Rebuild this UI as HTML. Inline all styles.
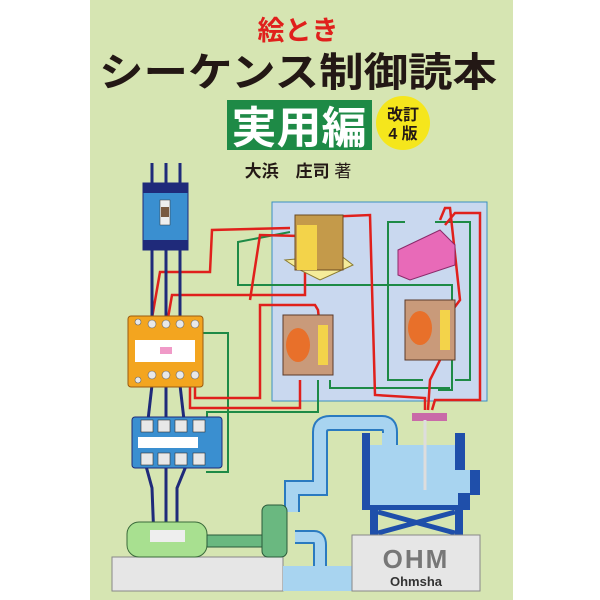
<!DOCTYPE html>
<html><head><meta charset="utf-8"><style>
html,body{margin:0;padding:0;background:#fff;}
svg{display:block}
text{font-family:"Liberation Sans","Noto Sans CJK JP",sans-serif;font-weight:bold}
</style></head><body>
<svg width="600" height="600" viewBox="0 0 600 600" xmlns="http://www.w3.org/2000/svg">
<rect x="90" y="0" width="423" height="600" fill="#d6e5b2"/>
<!-- titles -->
<text x="298" y="40" font-size="27" fill="#e0201c" text-anchor="middle">絵とき</text>
<text x="298" y="86" font-size="40" fill="#231815" text-anchor="middle" textLength="398" lengthAdjust="spacingAndGlyphs">シーケンス制御読本</text>
<rect x="227" y="100" width="145" height="50" fill="#1e8a46"/>
<text x="299" y="143" font-size="44" fill="#fff" text-anchor="middle" textLength="135" lengthAdjust="spacingAndGlyphs">実用編</text>
<circle cx="403" cy="123" r="27" fill="#f5e61c"/>
<text x="403" y="120" font-size="16" fill="#231815" text-anchor="middle">改訂</text>
<text x="403" y="139" font-size="16" fill="#231815" text-anchor="middle">4 版</text>
<text x="298" y="177" font-size="17" fill="#231815" text-anchor="middle">大浜　庄司 <tspan font-weight="normal">著</tspan></text>
<!-- blue panel -->
<rect x="272" y="202" width="215" height="199" fill="#c9d8ef" stroke="#3a8fc0" stroke-width="1"/>
<!-- wires green -->
<g fill="none" stroke="#1e8a46" stroke-width="2">
<polyline points="290,232 238,242 238,285 452,285 452,390 438,390"/>
<polyline points="405,222 388,222 388,380 423,380"/>
<polyline points="435,222 470,222 470,380 455,380"/>
<polyline points="197,333 228,333 228,472 206,472"/>
<polyline points="207,418 207,412 318,412 318,380"/>
<polyline points="330,380 330,388 450,388"/>
</g>
<!-- wires red -->
<g fill="none" stroke="#e0201c" stroke-width="2.5">
<polyline points="152,318 160,272 210,272 212,230 290,228"/>
<polyline points="168,318 172,295 305,295 305,240"/>
<polyline points="195,378 195,398 260,398 260,305 315,305 318,310 320,330"/>
<polyline points="190,382 190,408 300,408 300,380"/>
<polyline points="300,218 370,215 375,395 425,398 425,410"/>
<polyline points="250,300 260,235 300,236"/>
<polyline points="445,225 455,213 480,213 480,400 435,400 432,410"/>
<polyline points="440,220 445,208 450,208 460,300 445,320 440,360 430,380 428,410"/>
</g>
<!-- navy wires -->
<g stroke="#1f2a7a" stroke-width="3" fill="none">
<line x1="152" y1="163" x2="152" y2="183"/><line x1="166" y1="163" x2="166" y2="183"/><line x1="180" y1="163" x2="180" y2="183"/>
<line x1="152" y1="248" x2="152" y2="318"/><line x1="166" y1="248" x2="166" y2="318"/><line x1="180" y1="248" x2="180" y2="318"/>
<line x1="152" y1="385" x2="148" y2="420"/><line x1="166" y1="385" x2="166" y2="420"/><line x1="180" y1="385" x2="184" y2="420"/>
<polyline points="146,466 152,488 154,540"/><polyline points="166,466 166,540"/><polyline points="186,466 177,488 177,540"/>
</g>
<!-- breaker -->
<rect x="143" y="183" width="45" height="67" fill="#3a8fd0" stroke="#1f2a7a"/>
<rect x="143" y="183" width="45" height="10" fill="#1f2a7a"/>
<rect x="143" y="240" width="45" height="10" fill="#1f2a7a"/>
<rect x="160" y="200" width="10" height="25" fill="#eee" stroke="#333" stroke-width="0.5"/>
<rect x="161" y="207" width="8" height="10" fill="#7a5a40"/>
<!-- contactor -->
<rect x="128" y="316" width="75" height="71" rx="3" fill="#f3a51f" stroke="#9a5a10"/>
<rect x="135" y="340" width="60" height="22" fill="#fff"/>
<rect x="160" y="347" width="12" height="7" fill="#f09ac8"/>
<g fill="#e8e8e8" stroke="#666" stroke-width="0.6">
<circle cx="138" cy="322" r="3"/><circle cx="152" cy="324" r="4"/><circle cx="166" cy="324" r="4"/><circle cx="180" cy="324" r="4"/><circle cx="195" cy="324" r="4"/>
<circle cx="138" cy="380" r="3"/><circle cx="152" cy="375" r="4"/><circle cx="166" cy="375" r="4"/><circle cx="180" cy="375" r="4"/><circle cx="195" cy="375" r="4"/>
</g>
<!-- overload relay -->
<rect x="132" y="417" width="90" height="51" rx="3" fill="#3a8fd0" stroke="#1f2a7a"/>
<rect x="138" y="437" width="60" height="11" fill="#fff"/>
<g fill="#e8e8e8" stroke="#333" stroke-width="0.6">
<rect x="141" y="420" width="12" height="12"/><rect x="158" y="420" width="12" height="12"/><rect x="175" y="420" width="12" height="12"/><rect x="193" y="420" width="12" height="12"/>
<rect x="141" y="453" width="12" height="12"/><rect x="158" y="453" width="12" height="12"/><rect x="175" y="453" width="12" height="12"/><rect x="193" y="453" width="12" height="12"/>
</g>
<!-- transformer -->
<polygon points="285,260 300,270 320,280 353,265 340,255" fill="#f5ec9a" stroke="#8a7a30"/>
<rect x="295" y="215" width="48" height="55" fill="#c49a4a" stroke="#6a4a20"/>
<rect x="297" y="225" width="20" height="45" fill="#f3d34a"/>
<!-- pink terminal -->
<polygon points="398,250 440,230 455,245 455,265 410,280 398,275" fill="#e86ab8" stroke="#8a2a6a"/>
<!-- relays -->
<g>
<rect x="283" y="315" width="50" height="60" fill="#c99a7a" stroke="#5a3a2a"/>
<ellipse cx="298" cy="345" rx="12" ry="17" fill="#e8702a"/>
<rect x="318" y="325" width="10" height="40" fill="#f3d34a"/>
<rect x="405" y="300" width="50" height="60" fill="#c99a7a" stroke="#5a3a2a"/>
<ellipse cx="420" cy="328" rx="12" ry="17" fill="#e8702a"/>
<rect x="440" y="310" width="10" height="40" fill="#f3d34a"/>
</g>
<!-- pipe -->
<path d="M292,512 L292,488 L320,488 L320,432 Q320,423 330,423 L382,423 Q390,423 390,432 L390,450" fill="none" stroke="#2a7ac0" stroke-width="16"/>
<path d="M292,512 L292,488 L320,488 L320,432 Q320,423 330,423 L382,423 Q390,423 390,432 L390,450" fill="none" stroke="#a8d4f0" stroke-width="12"/>
<path d="M295,537 L314,537 Q320,537 320,545 L320,588" fill="none" stroke="#2a7ac0" stroke-width="14"/>
<path d="M295,537 L314,537 Q320,537 320,545 L320,588" fill="none" stroke="#a8d4f0" stroke-width="10"/>
<!-- tank -->
<path d="M362,433 L370,433 L370,445 L455,445 L455,433 L465,433 L465,470 L480,470 L480,495 L470,495 L470,510 L362,510 Z" fill="#1f4faa"/>
<path d="M370,445 L455,445 L455,470 L470,470 L470,493 L458,493 L458,505 L370,505 Z" fill="#a8d4f0"/>
<rect x="382" y="433" width="14" height="20" fill="#a8d4f0"/>
<rect x="370" y="510" width="8" height="25" fill="#1f4faa"/><rect x="455" y="510" width="8" height="25" fill="#1f4faa"/>
<line x1="378" y1="512" x2="455" y2="533" stroke="#1f4faa" stroke-width="5"/><line x1="378" y1="533" x2="455" y2="512" stroke="#1f4faa" stroke-width="5"/>
<rect x="412" y="413" width="35" height="8" fill="#c96aa8"/>
<line x1="425" y1="420" x2="425" y2="490" stroke="#ddd" stroke-width="3"/>
<!-- platforms -->
<rect x="112" y="557" width="171" height="34" fill="#e6e6e6" stroke="#888"/>
<rect x="283" y="566" width="69" height="25" fill="#a8d4f0"/>
<rect x="352" y="535" width="128" height="56" fill="#e6e6e6" stroke="#888"/>
<text x="416" y="568" font-size="26" fill="#777" text-anchor="middle" letter-spacing="2">OHM</text>
<text x="416" y="586" font-size="13" font-weight="normal" fill="#333" text-anchor="middle">Ohmsha</text>
<!-- motor & pump -->
<rect x="127" y="522" width="80" height="35" rx="12" fill="#a8e090" stroke="#3a6a3a"/>
<rect x="150" y="530" width="35" height="12" fill="#eee"/>
<rect x="207" y="535" width="60" height="12" fill="#6ab880" stroke="#2a5a3a"/>
<rect x="262" y="505" width="25" height="52" rx="6" fill="#6ab880" stroke="#2a5a3a"/>
</svg>
</body></html>
